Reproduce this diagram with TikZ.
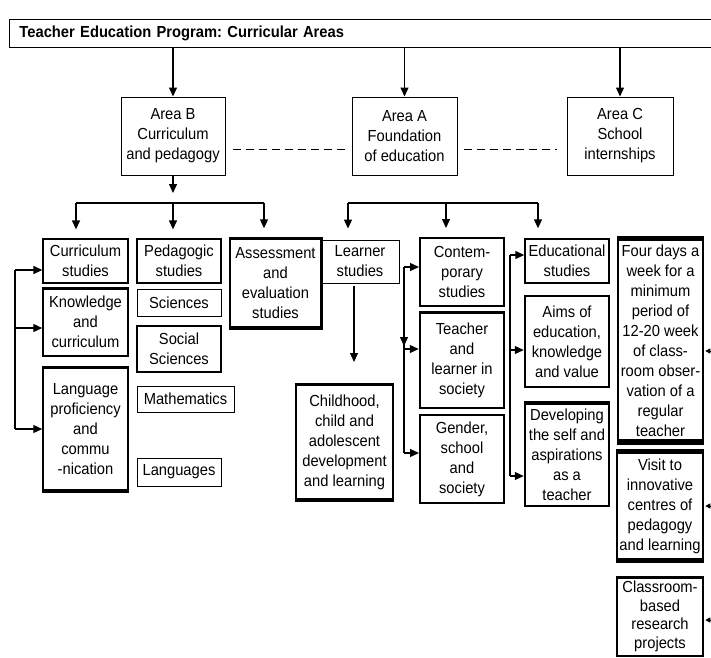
\documentclass[tikz,border=0pt]{standalone}
\usepackage{fontspec}
\setmainfont{Liberation Sans}[FakeStretch=0.92]
\usetikzlibrary{arrows.meta}
\frenchspacing
\begin{document}
\begin{tikzpicture}[x=1pt, y=-1pt,
  box/.style={draw, line width=1pt, inner sep=0pt, align=center,
    font=\fontsize{16}{20}\selectfont},
  medbox/.style={box, line width=2pt},
  band/.style={line width=#1},
  conn/.style={line width=1.3pt},
  arr/.style={conn, -{Triangle[length=9pt,width=8pt]}},
  arrs/.style={line width=1pt, -{Triangle[length=5pt,width=5pt]}},
  dashline/.style={line width=1pt, dash pattern=on 8pt off 5pt}]
\useasboundingbox (0,0) rectangle (711,657);
\clip (0,0) rectangle (711,657);

% title bar
\node[draw, line width=1pt, anchor=north west, minimum height=28pt,
  inner xsep=10pt, text width=700pt, align=left,
  font=\bfseries\fontsize{16}{19}\selectfont] (title) at (9,18.5)
  {Teacher Education Program: Curricular Areas};

% the three areas
\node[box, minimum width=104pt, minimum height=78pt] (areaB) at (173,136)
  {Area B\\Curriculum\\and pedagogy};
\node[box, minimum width=105pt, minimum height=78pt] (areaA) at (404.5,136)
  {Area A\\Foundation\\of education};
\node[box, minimum width=106pt, minimum height=78pt] (areaC) at (620,136)
  {Area C\\School\\internships};

% area B columns
\node[box, line width=1.3pt, minimum width=85pt, minimum height=44pt] (curr) at (85.5,261) {Curriculum\\studies};
\node[box, line width=1.5pt, minimum width=85pt, minimum height=68pt] (know) at (85.5,322) {Knowledge\\and\\curriculum};
\node[box, line width=1.5pt, minimum width=85pt, minimum height=125pt] (lang) at (85.5,429.5) {Language\\proficiency\\and\\commu\\-nication};
\node[box, line width=1.3pt, minimum width=84pt, minimum height=44pt] (ped) at (179,261) {Pedagogic\\studies};
\node[box, minimum width=84pt, minimum height=27pt] (sci) at (179,302.5) {Sciences};
\node[box, line width=1.5pt, minimum width=84pt, minimum height=46pt] (soc) at (179,349) {Social\\Sciences};
\node[box, minimum width=97pt, minimum height=26pt] (math) at (185.5,399) {Mathematics};
\node[box, minimum width=84pt, minimum height=28pt] (langs) at (179,472) {Languages};
\node[box, line width=1.5pt, minimum width=91pt, minimum height=91pt] (assess) at (275.5,283.5) {Assessment\\and\\evaluation\\studies};

% area A columns
\node[box, minimum width=78pt, minimum height=43pt] (learner) at (360,261.5) {Learner\\studies};
\node[medbox, minimum width=97pt, minimum height=116pt] (child) at (344.5,442) {Childhood,\\child and\\adolescent\\development\\and learning};
\node[medbox, minimum width=84pt, minimum height=68pt] (contemp) at (462,272) {Contem-\\porary\\studies};
\node[medbox, line width=2.5pt, minimum width=84pt, minimum height=95pt] (teach) at (462,360.5) {Teacher\\and\\learner in\\society};
\node[medbox, minimum width=84pt, minimum height=88pt] (gender) at (462,459) {Gender,\\school\\and\\society};
\node[box, line width=1.5pt, minimum width=84pt, minimum height=44pt] (educ) at (567,261) {Educational\\studies};
\node[medbox, line width=2.5pt, minimum width=84pt, minimum height=91pt] (aims) at (567,341.5) {Aims of\\education,\\knowledge\\and value};
\node[medbox, line width=2.5pt, minimum width=84pt, minimum height=103pt] (dev) at (567,454.5) {Developing\\the self and\\aspirations\\as a\\teacher};

% area C column
\node[box, line width=1.5pt, minimum width=85pt, minimum height=207pt] (four) at (660.5,340.5)
  {Four days a\\week for a\\minimum\\period of\\12-20 week\\of class-\\room obser-\\vation of a\\regular\\teacher};
\node[box, line width=1.5pt, minimum width=86pt, minimum height=112pt] (visit) at (660,506)
  {Visit to\\innovative\\centres of\\pedagogy\\and learning};
\node[box, line width=1.5pt, minimum width=86pt, minimum height=79pt,
  font=\fontsize{16}{18.5}\selectfont] (class) at (660,616.5)
  {Classroom-\\based\\research\\projects};

% heavy top and bottom edges
\draw[band=3pt] ([yshift=-1pt]know.north west) -- ([yshift=-1pt]know.north east);
\draw[band=3.5pt] ([yshift=-1pt]lang.north west) -- ([yshift=-1pt]lang.north east);
\draw[band=4pt] ([yshift=1.5pt]lang.south west) -- ([yshift=1.5pt]lang.south east);
\draw[band=3pt] ([yshift=-1pt]assess.north west) -- ([yshift=-1pt]assess.north east);
\draw[band=4pt] ([yshift=1.5pt]assess.south west) -- ([yshift=1.5pt]assess.south east);
\draw[band=2.5pt] (assess.north east) -- (assess.south east);
\draw[band=3pt] ([yshift=-1pt]child.north west) -- ([yshift=-1pt]child.north east);
\draw[band=3.5pt] ([yshift=1pt]child.south west) -- ([yshift=1pt]child.south east);
\draw[band=3pt] ([yshift=-1pt]teach.north west) -- ([yshift=-1pt]teach.north east);
\draw[band=3.5pt] ([yshift=-1pt]dev.north west) -- ([yshift=-1pt]dev.north east);
\draw[band=5pt] ([yshift=-2pt]four.north west) -- ([yshift=-2pt]four.north east);
\draw[band=6pt] ([yshift=2.5pt]four.south west) -- ([yshift=2.5pt]four.south east);
\draw[band=5pt] ([yshift=-2pt]visit.north west) -- ([yshift=-2pt]visit.north east);
\draw[band=5pt] ([yshift=2pt]visit.south west) -- ([yshift=2pt]visit.south east);
\draw[band=3pt] ([yshift=-1pt]class.north west) -- ([yshift=-1pt]class.north east);

% title to areas
\draw[arr] (title.south -| areaB.north) -- (areaB.north);
\draw[arr] (title.south -| areaA.north) -- (areaA.north);
\draw[arr] (title.south -| areaC.north) -- (areaC.north);

% links between areas
\draw[dashline, shorten <=7pt, shorten >=7pt] ([yshift=-13pt]areaB.east) -- ([yshift=-13pt]areaA.west);
\draw[dashline, shorten <=6pt, shorten >=10pt] ([yshift=-13pt]areaA.east) -- ([yshift=-13pt]areaC.west);

% area B branches
\coordinate (bTip) at (173,193);
\draw[arr] (areaB.south) -- (bTip);
\coordinate (bL) at (76,203);
\coordinate (bR) at (264,203);
\draw[conn] (bL) -- (bR);
\draw[arr, shorten >=9pt] (bL) -- (bL |- curr.north);
\draw[arr, shorten >=9pt] (areaB.south |- bL) -- (areaB.south |- ped.north);
\draw[arr, shorten >=9pt] (bR) -- (bR |- assess.north);

% area A branches
\coordinate (aL) at (348,203);
\coordinate (aM) at (446,203);
\coordinate (aR) at (538,203);
\draw[conn] (aL) -- (aR);
\draw[arr, shorten >=11pt] (aL) -- (aL |- learner.north);
\draw[arr, shorten >=9pt] (aM) -- (aM |- contemp.north);
\draw[arr, shorten >=10pt] (aR) -- (aR |- educ.north);

% learner studies to childhood
\coordinate (lTip) at (354,362);
\draw[arr, shorten <=2pt] (lTip |- learner.south) -- (lTip);

% left bracket
\coordinate (L1) at (15,270);
\coordinate (L2) at (15,328);
\coordinate (L3) at (15,429);
\draw[conn] (L1) -- (L3);
\draw[arr] (L1) -- (L1 -| curr.west);
\draw[arr] (L2) -- (L2 -| know.west);
\draw[arr] (L3) -- (L3 -| lang.west);

% middle bracket
\coordinate (M1) at (404,267);
\coordinate (M2) at (404,349);
\coordinate (M3) at (404,453);
\coordinate (Mdown) at (404,346);
\draw[conn] (M1) -- (M3);
\draw[arr] (M1) -- (Mdown);
\draw[arr] (M1) -- (M1 -| contemp.west);
\draw[arr] (M2) -- (M2 -| teach.west);
\draw[arr] (M3) -- (M3 -| gender.west);

% right bracket
\coordinate (R1) at (510,255);
\coordinate (R2) at (510,350);
\coordinate (R3) at (510,476);
\draw[conn] (R1) -- (R3);
\draw[arr] (R1) -- (R1 -| educ.west);
\draw[arr] (R2) -- (R2 -| aims.west);
\draw[arr] (R3) -- (R3 -| dev.west);

% arrows coming in from the right edge
\coordinate (E1) at (725,351);
\coordinate (E2) at (725,506);
\coordinate (E3) at (725,620);
\draw[arrs, shorten >=1.5pt] (E1) -- (E1 -| four.east);
\draw[arrs, shorten >=1.5pt] (E2) -- (E2 -| visit.east);
\draw[arrs, shorten >=1.5pt] (E3) -- (E3 -| class.east);
\end{tikzpicture}
\end{document}
